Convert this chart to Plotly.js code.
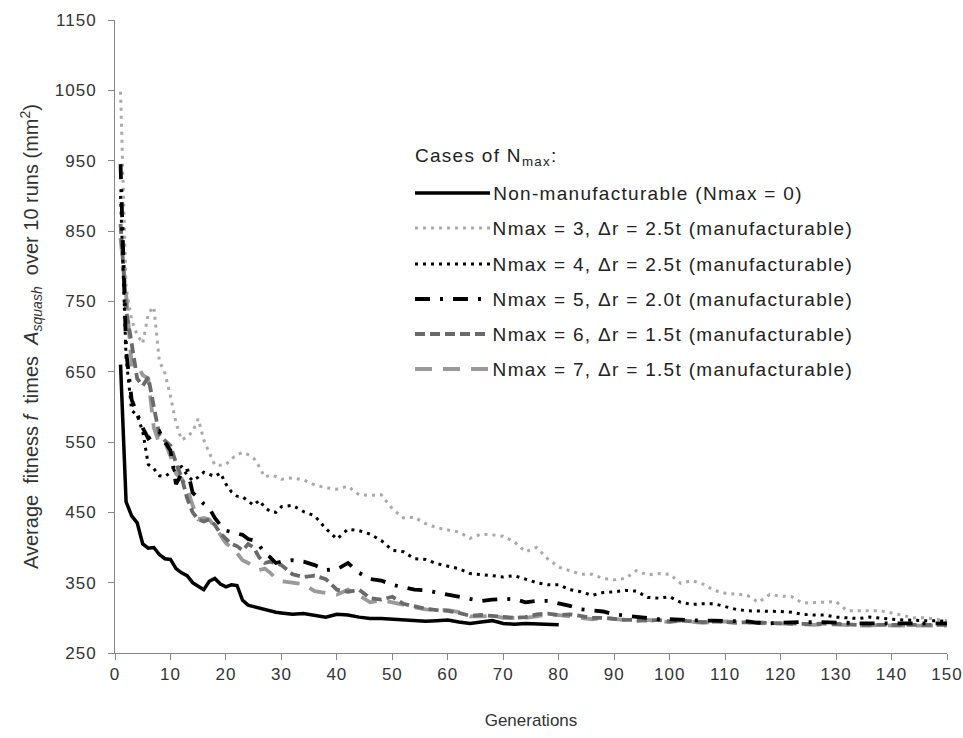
<!DOCTYPE html>
<html>
<head>
<meta charset="utf-8">
<script src="https://cdn.plot.ly/plotly-3.0.1.min.js"></script>
<style>
html,body{margin:0;padding:0;background:#fff;}
#chart{width:963px;height:738px;}
#chart .annotation-text{letter-spacing:1.3px;}
#chart .xtick text, #chart .ytick text{letter-spacing:1px;}
</style>
</head>
<body>
<div id="chart"></div>
<script>
// Generations (x values)
const gens = [1,2,3,4,5,6,7,8,9,10,11,12,13,14,15,16,17,18,19,20,21,22,23,24,25,26,27,28,29,30,
  32,34,36,38,40,42,44,46,48,50,52,54,56,58,60,62,64,66,68,70,72,74,76,78,80,
  82,84,86,88,90,92,94,96,98,100,102,104,106,108,110,112,114,116,118,120,
  122,124,126,128,130,132,134,136,138,140,142,144,146,148,150];

// Non-manufacturable (Nmax = 0), generations 1..80
const nonManuf = [660,465,445,435,405,399,400,390,384,383,
  370,364,360,350,345,340,352,356,348,344,
  347,346,325,318,316,314,311,309,308,307,
  305,306,303,301,305,304,301,299,299,298,
  297,297,295,296,297,294,292,294,296,292,
  291,292,291,291,290];

const nmax3 = [1048,770,723,702,690,733,742,665,648,615,
  577,553,557,565,583,553,535,517,517,518,
  526,532,535,532,527,515,500,503,501,497,
  499,496,489,485,483,487,475,474,475,455,
  442,443,434,428,425,422,413,419,418,416,
  408,394,400,384,372,367,362,362,356,354,
  356,367,361,363,362,349,353,348,339,335,
  334,332,322,333,331,330,321,322,323,323,
  310,310,310,310,307,303,300,300,298,296];

const nmax4 = [900,670,595,588,565,518,512,502,501,506,
  512,515,503,495,500,507,504,501,506,490,
  479,473,472,466,460,467,457,451,450,458,
  460,451,445,427,412,426,424,419,410,396,
  394,384,383,377,374,370,363,362,360,358,
  360,355,350,347,347,340,337,332,336,337,
  339,338,329,328,330,322,319,320,320,316,
  312,310,310,309,309,308,305,304,304,301,
  300,299,301,299,298,297,296,296,296,295];

const nmax5 = [945,680,610,590,570,555,560,565,550,538,
  490,505,512,478,470,462,456,442,432,424,
  422,420,418,412,410,403,392,386,378,380,
  382,380,375,368,369,378,364,355,353,347,
  343,340,339,336,334,331,328,324,326,327,
  327,322,324,324,321,317,312,311,309,305,
  303,301,299,298,298,297,297,296,296,296,
  295,295,293,292,293,294,294,294,294,293,
  293,292,292,292,292,292,292,292,292,292];

const nmax6 = [860,738,690,640,630,642,600,560,552,545,
  520,500,470,450,440,437,440,432,420,412,
  405,402,396,405,400,386,378,380,378,375,
  362,358,360,355,340,337,340,328,326,330,
  320,316,313,311,310,307,303,304,303,301,
  300,301,305,306,304,305,303,300,300,298,
  297,297,296,297,295,296,295,294,295,294,
  293,294,293,293,292,292,291,291,292,291,
  291,290,290,290,290,290,290,290,290,290];

const nmax7 = [840,760,660,660,645,640,570,548,550,530,
  505,498,485,460,440,442,440,430,418,406,
  400,392,382,378,372,368,370,364,356,352,
  350,348,338,336,333,340,332,322,325,322,
  318,315,312,312,311,308,302,302,303,300,
  300,300,302,305,304,302,300,298,300,298,
  296,295,297,296,294,296,294,293,294,295,
  294,293,292,292,292,291,290,290,291,290,
  290,289,289,290,289,289,289,289,289,289];

const seriesNames = [
  'Non-manufacturable (Nmax = 0)',
  'Nmax = 3, \u0394r = 2.5t (manufacturable)',
  'Nmax = 4, \u0394r = 2.5t (manufacturable)',
  'Nmax = 5, \u0394r = 2.0t (manufacturable)',
  'Nmax = 6, \u0394r = 1.5t (manufacturable)',
  'Nmax = 7, \u0394r = 1.5t (manufacturable)'
];
const legendTitle = 'Cases of N<sub>max</sub>:';
const yTicks = [250,350,450,550,650,750,850,950,1050,1150];
const xTicks = [0,10,20,30,40,50,60,70,80,90,100,110,120,130,140,150];

const styles = [
  {color:'#000000', width:3.5, dash:'solid'},
  {color:'#a9a9a9', width:3, dash:'3px,5px'},
  {color:'#000000', width:3, dash:'3px,5px'},
  {color:'#000000', width:3.8, dash:'15px,10px,3px,10px'},
  {color:'#6a6a6a', width:3.8, dash:'10px,5px'},
  {color:'#9a9a9a', width:3.8, dash:'17px,11px'}
];

const ys = [nonManuf, nmax3, nmax4, nmax5, nmax6, nmax7];
const traces = ys.map((y, i) => ({
  type:'scatter', mode:'lines', name: seriesNames[i],
  x: gens.slice(0, y.length), y: y,
  line: {color: styles[i].color, width: styles[i].width, dash: styles[i].dash, shape:'linear'},
  showlegend:false
}));
// draw order: lighter first, black solid last
const order = [1,5,4,3,2,0];
const data = order.map(i => traces[i]);

// legend drawn in paper coordinates
const L = 115, R = 947, T = 20, B = 653;
const px = v => (v - L) / (R - L);
const py = v => (B - v) / (B - T);
const LS = 1.3; // css letter-spacing of annotation text
const shiftFor = t => t.replace(/<[^>]+>/g, '').length * LS / 2;
const rowY = [193, 228, 264, 299, 334, 369];
const legFont = {family:'Liberation Sans, Arial, sans-serif', size:19, color:'#222'};
const shapes = rowY.map((yy, i) => ({
  type:'line', xref:'paper', yref:'paper',
  x0: px(415), x1: px(490), y0: py(yy), y1: py(yy),
  line: {color: styles[i].color, width: styles[i].width, dash: styles[i].dash}
}));
const annotations = rowY.map((yy, i) => ({
  xref:'paper', yref:'paper', x: px(491), y: py(yy), xanchor:'left', yanchor:'middle',
  xshift: shiftFor(seriesNames[i]),
  text: seriesNames[i], showarrow:false, font: legFont
}));
annotations.push({
  xref:'paper', yref:'paper', x: px(413), y: py(157), xanchor:'left', yanchor:'middle',
  xshift: shiftFor(legendTitle),
  text: legendTitle, showarrow:false, font: legFont
});

const layout = {
  width:963, height:738,
  margin:{l:115, r:16, t:20, b:85},
  paper_bgcolor:'#fff', plot_bgcolor:'#fff',
  font:{family:'Liberation Sans, Arial, sans-serif', size:17, color:'#333'},
  showlegend:false,
  xaxis:{
    range:[0,150], tickvals:xTicks, ticktext:xTicks.map(String),
    showgrid:false, zeroline:false, showline:true, linecolor:'#868686', linewidth:1,
    ticks:'outside', ticklen:6, tickcolor:'#868686',
    tickfont:{size:17, color:'#333'},
    title:{text:'Generations', font:{size:17, color:'#333'}, standoff:30}
  },
  yaxis:{
    range:[250,1150], tickvals:yTicks, ticktext:yTicks.map(String),
    showgrid:false, zeroline:false, showline:true, linecolor:'#868686', linewidth:1,
    ticks:'outside', ticklen:6, tickcolor:'#868686', ticklabelstandoff:8,
    tickfont:{size:17, color:'#333'},
    title:{text:'Average  fitness <i>f</i>  times  <i>A<sub>squash</sub></i>  over 10 runs (mm<sup>2</sup>)',
      font:{family:'Liberation Sans Narrow, Liberation Sans, Arial, sans-serif', size:20, color:'#333'}, standoff:14}
  },
  shapes: shapes,
  annotations: annotations
};

Plotly.newPlot('chart', data, layout, {displayModeBar:false, staticPlot:true});
</script>
</body>
</html>
